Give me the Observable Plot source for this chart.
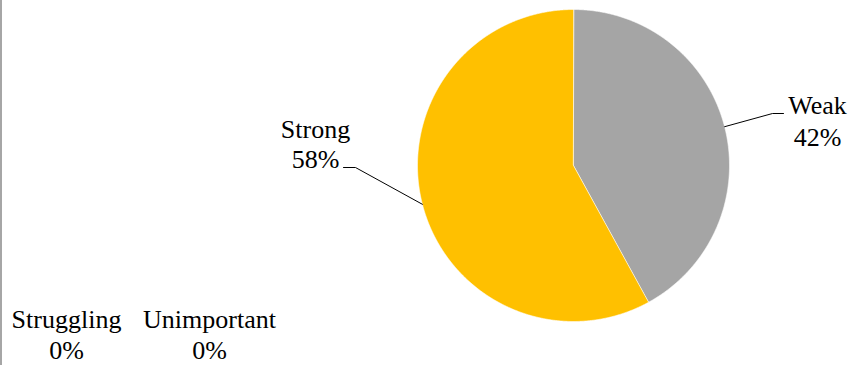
<!DOCTYPE html>
<html><head><meta charset="utf-8">
<script src="https://cdn.jsdelivr.net/npm/d3@7"></script>
<script src="https://cdn.jsdelivr.net/npm/@observablehq/plot@0.6"></script>
<style>
body{margin:0;background:#fff}
#chart{position:relative;width:853px;height:365px;overflow:hidden}
#chart::before{content:"";position:absolute;left:0;top:0;bottom:0;width:1.5px;background:#a6a6a6}
#chart text{font-family:"Liberation Serif","Times New Roman",serif}
</style>
</head><body><div id="chart"></div>
<script>
// ---- data ----
const categories = ["Weak", "Strong", "Struggling", "Unimportant"];
const values = [42, 58, 0, 0];
const percentLabels = ["42%", "58%", "0%", "0%"];
const sliceColors = ["#A5A5A5", "#FFC000", "#5B9BD5", "#ED7D31"];

// ---- layout ----
const W = 853, H = 365, cx = 573, cy = 165, R = 156;
const labelLayout = {
  Weak:        {x: 817, y: 145, lh: 1.23, elbow: [772, 113], end: [783, 113]},
  Strong:      {x: 315, y: 167, lh: 1.15, elbow: [355, 167], end: [343, 167]},
  Struggling:  {x: 66,  y: 358, lh: 1.19},
  Unimportant: {x: 209, y: 358, lh: 1.19}
};

const arcs = d3.pie().sort(null).value(d => d)(values);
const pt = (a, r) => [cx + r * Math.sin(a), cy - r * Math.cos(a)];

const slicePts = [];
arcs.forEach((a, i) => {
  if (a.endAngle - a.startAngle <= 0) return;
  slicePts.push({cat: categories[i], color: sliceColors[i], x: cx, y: cy});
  const n = Math.max(2, Math.ceil((a.endAngle - a.startAngle) / 0.005));
  for (let k = 0; k <= n; k++) {
    const ang = a.startAngle + (a.endAngle - a.startAngle) * k / n;
    const [x, y] = pt(ang, R);
    slicePts.push({cat: categories[i], color: sliceColors[i], x, y});
  }
});

const leaderPts = [];
arcs.forEach((a, i) => {
  const L = labelLayout[categories[i]];
  if (!L.elbow || a.endAngle - a.startAngle <= 0) return;
  const mid = (a.startAngle + a.endAngle) / 2;
  const [x0, y0] = pt(mid, R);
  leaderPts.push({cat: categories[i], x: x0, y: y0});
  leaderPts.push({cat: categories[i], x: L.elbow[0], y: L.elbow[1]});
  leaderPts.push({cat: categories[i], x: L.end[0], y: L.end[1]});
});

const labelMarks = categories.map((c, i) => {
  const L = labelLayout[c];
  return Plot.text([c + "\n" + percentLabels[i]], {
    x: () => L.x, y: () => L.y, text: d => d,
    lineAnchor: "bottom", lineHeight: L.lh, textAnchor: "middle",
    fontFamily: "Liberation Serif", fontSize: 26, fill: "#000"
  });
});

const chart = Plot.plot({
  width: W, height: H, margin: 0,
  x: {domain: [0, W], range: [0, W], axis: null},
  y: {domain: [0, H], range: [0, H], axis: null},
  color: {type: "identity"},
  style: {background: "transparent", fontFamily: "Liberation Serif"},
  marks: [
    Plot.line(slicePts, {x: "x", y: "y", z: "cat", fill: "color", stroke: "#fff", strokeWidth: 0.6, curve: "linear-closed"}),
    Plot.line(leaderPts, {x: "x", y: "y", z: "cat", stroke: "#000", strokeWidth: 1}),
    ...labelMarks
  ]
});
document.getElementById("chart").appendChild(chart);
</script>
</body></html>
